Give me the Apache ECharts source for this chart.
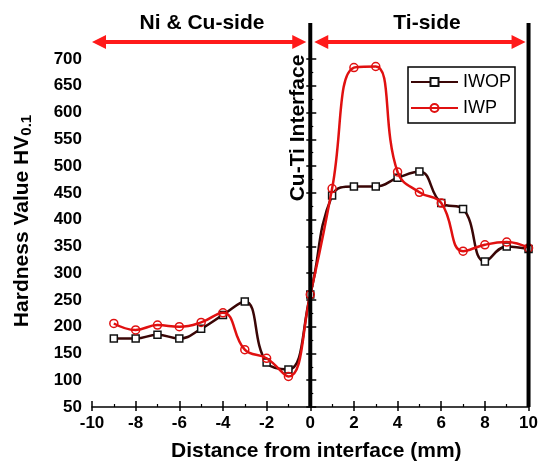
<!DOCTYPE html>
<html><head><meta charset="utf-8">
<script src="https://cdn.jsdelivr.net/npm/echarts@6/dist/echarts.min.js"></script>
<style>html,body{margin:0;padding:0;background:#fff}#c{width:541px;height:467px}</style>
</head><body><div id="c"></div>
<script>
const xValues = [-9,-8,-7,-6,-5,-4,-3,-2,-1,0,1,2,3,4,5,6,7,8,9,10];
const iwop = [178,178,185,178,196,222,247,133,120,260,445,462,462,478,490,431,420,322,350,345];
const iwp  = [206,194,203,200,208,226,157,141,107,260,458,684,686,489,451,431,341,353,358,347];
const xTicks = [-10,-8,-6,-4,-2,0,2,4,6,8,10];
const yTicks = [50,100,150,200,250,300,350,400,450,500,550,600,650,700];
const sideLabels = ['Ni & Cu-side','Ti-side'];
const interfaceLabel = 'Cu-Ti Interface';
const sideBounds = [[-10,0],[0,10]];

const F = 'Liberation Sans, Arial, sans-serif';
const chart = echarts.init(document.getElementById('c'));
const pair = (xs, ys) => xs.map((x,i)=>[x, ys[i]]);

chart.setOption({
  animation:false,
  grid:{left:92,right:11,top:59,bottom:59},
  legend:{
    left:408, top:67, orient:'vertical', itemWidth:47, itemHeight:10, itemGap:8,
    padding:[6,4,6,2], borderColor:'#000', borderWidth:1.5,
    textStyle:{fontFamily:F, fontSize:18, color:'#000'},
    data:['IWOP','IWP']
  },
  xAxis:[{
    type:'value', min:xTicks[0], max:xTicks[xTicks.length-1], interval:2,
    axisLine:{lineStyle:{color:'#000',width:1.5}},
    axisTick:{inside:true,length:6,lineStyle:{width:1.5}},
    minorTick:{show:true,splitNumber:2,length:3,lineStyle:{color:'#000',width:1.2}},
    splitLine:{show:false},
    axisLabel:{fontFamily:F,fontSize:17,fontWeight:'bold',color:'#000',margin:8},
    name:'Distance from interface (mm)', nameLocation:'middle', nameGap:34,
    nameTextStyle:{fontFamily:F,fontSize:21,fontWeight:'bold',color:'#000',padding:[0,0,0,12]}
  },{
    type:'value', min:-10, max:10, interval:2, position:'bottom',
    axisLine:{show:false}, axisTick:{inside:false,length:4,lineStyle:{color:'#000',width:1.5}},
    axisLabel:{show:false}, splitLine:{show:false}
  }],
  yAxis:[{
    type:'value', min:yTicks[0], max:yTicks[yTicks.length-1], interval:50,
    axisLine:{show:true,lineStyle:{color:'#000',width:1.5}},
    axisTick:{show:true,inside:true,length:6,lineStyle:{width:1.5}},
    minorTick:{show:true,splitNumber:2,length:3,lineStyle:{color:'#000',width:1.2}},
    splitLine:{show:false},
    axisLabel:{fontFamily:F,fontSize:17,fontWeight:'bold',color:'#000',margin:10},
    name:'{a|Hardness Value HV}{b|0.1}', nameLocation:'middle', nameGap:58,
    nameTextStyle:{fontFamily:F,color:'#000',padding:[0,0,0,24],
      rich:{a:{fontFamily:F,fontSize:21,fontWeight:'bold',color:'#000'},
            b:{fontFamily:F,fontSize:15,fontWeight:'bold',color:'#000',verticalAlign:'bottom',padding:[9,0,0,0]}}}
  },{
    type:'value', min:50, max:700, interval:50, position:'left',
    axisLine:{show:false}, axisTick:{show:true,inside:false,length:4,lineStyle:{color:'#000',width:1.5}},
    axisLabel:{show:false}, splitLine:{show:false}
  }],
  series:[
    {name:'IWOP', type:'line', smooth:0.45, data:pair(xValues,iwop), z:3,
     symbol:'rect', symbolSize:7, showAllSymbol:true,
     lineStyle:{color:'#3a0606',width:2.5},
     itemStyle:{color:'#fff',borderColor:'#111',borderWidth:1.5}
    },
    {name:'IWP', type:'line', smooth:0.45, data:pair(xValues,iwp), z:4,
     symbol:'circle', symbolSize:8, showAllSymbol:true,
     lineStyle:{color:'#e01010',width:2.5},
     itemStyle:{color:'rgba(255,255,255,0)',borderColor:'#e01010',borderWidth:1.5}
    }
  ]
});

// annotations positioned through the chart's own coordinate conversion
const px = (x,y) => chart.convertToPixel({gridIndex:0},[x,y]);
const yBottom = px(0,50)[1];
const topPix = 23, arrowPix = 42, head = 14, halfH = 7;
const g = [];
[0,10].forEach(v => {
  const x = px(v,50)[0];
  g.push({type:'line', z:10, shape:{x1:x,y1:topPix,x2:x,y2:yBottom}, style:{stroke:'#000',lineWidth:4}});
});
sideBounds.forEach((b,i) => {
  const xa = px(b[0],50)[0] + (i===0?0:4), xb = px(b[1],50)[0] - (i===0?4:3);
  g.push({type:'line', z:9, shape:{x1:xa+head-2,y1:arrowPix,x2:xb-head+2,y2:arrowPix}, style:{stroke:'#ff1a1a',lineWidth:4}});
  g.push({type:'polygon', z:9, shape:{points:[[xa,arrowPix],[xa+head,arrowPix-halfH],[xa+head,arrowPix+halfH]]}, style:{fill:'#ff1a1a'}});
  g.push({type:'polygon', z:9, shape:{points:[[xb,arrowPix],[xb-head,arrowPix-halfH],[xb-head,arrowPix+halfH]]}, style:{fill:'#ff1a1a'}});
});
g.push({type:'text', z:10, x:202, y:23, style:{text:sideLabels[0], font:'bold 21px '+F, fill:'#000', align:'center', verticalAlign:'middle'}});
g.push({type:'text', z:10, x:427, y:23, style:{text:sideLabels[1], font:'bold 21px '+F, fill:'#000', align:'center', verticalAlign:'middle'}});
g.push({type:'text', z:10, x:298, y:128, rotation:Math.PI/2, style:{text:interfaceLabel, font:'bold 21px '+F, fill:'#000', align:'center', verticalAlign:'middle'}});
chart.setOption({graphic:g});
</script></body></html>
